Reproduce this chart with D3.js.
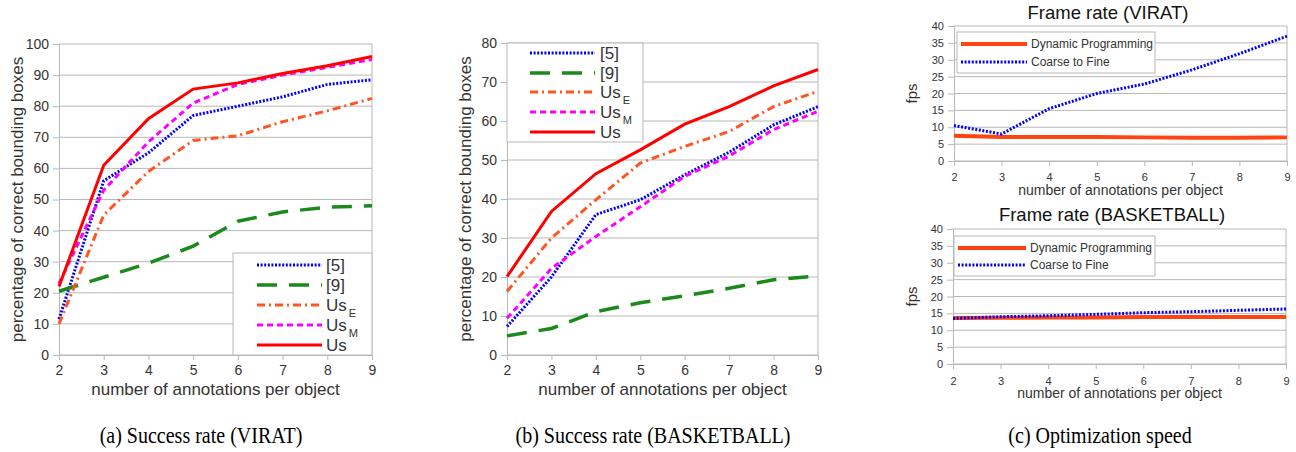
<!DOCTYPE html>
<html>
<head>
<meta charset="utf-8">
<script src="https://cdn.jsdelivr.net/npm/d3@7"></script>
<style>
  body { margin: 0; background: #fff; }
  svg { display: block; font-family: "Liberation Sans", Arial, sans-serif; }
  .grid line { stroke: #b8b8b8; stroke-width: 1; }
  .axis path, .axis line { stroke: #b8b8b8; }
  .axis text { fill: #333; }
</style>
</head>
<body>
<div id="chart"></div>
<script>
// annotations per object (x values shared by all panels)
var annotations = [2, 3, 4, 5, 6, 7, 8, 9];

// (a) success rate, VIRAT
var viratRef5 = [11.5, 56, 65, 77, 80, 83, 87, 88.5];
var viratRef9 = [20.5, 25, 29.5, 35, 43, 46, 47.5, 48];
var viratUsE  = [10, 45, 59, 69, 70.5, 75, 78.5, 82.5];
var viratUsM  = [23, 53, 68.5, 81, 87, 90, 92.5, 95];
var viratUs   = [22, 61, 76, 85.5, 87.5, 90.5, 93, 96];

// (b) success rate, BASKETBALL
var basketRef5 = [7.3, 20, 36, 39.8, 46.2, 52, 59, 63.7];
var basketRef9 = [4.9, 6.8, 11.1, 13.4, 15.2, 17.1, 19.3, 20.3];
var basketUsE  = [16.3, 30, 39.8, 49.2, 53.5, 57.3, 63.7, 67.6];
var basketUsM  = [9.4, 22.2, 30.4, 38, 45.8, 51, 57.8, 62.5];
var basketUs   = [20.1, 36.8, 46.5, 52.6, 59.2, 63.7, 69, 73.2];

// (c) frame rate
var viratDP   = [7.5, 7.1, 7.1, 7.1, 7.0, 6.9, 6.9, 7.0];
var viratCTF  = [10.5, 8, 15.5, 20, 22.8, 27, 31.8, 37];
var basketDP  = [13.6, 13.7, 13.8, 13.8, 13.9, 13.9, 13.9, 13.9];
var basketCTF = [13.5, 14, 14.3, 14.7, 15.2, 15.5, 15.9, 16.3];

var successNames = [["[5]", ""], ["[9]", ""], ["Us", "E"], ["Us", "M"], ["Us", ""]];
var speedNames = ["Dynamic Programming", "Coarse to Fine"];
var captions = ["(a) Success rate (VIRAT)", "(b) Success rate (BASKETBALL)", "(c) Optimization speed"];

// line styles
var successStyles = [
  {color: "#0000ff", width: 3, dash: "2,1.6"},
  {color: "#1b8a1b", width: 3.5, dash: "20,12"},
  {color: "#ff5522", width: 3, dash: "8,4,2,4"},
  {color: "#ff00ff", width: 3, dash: "6,4"},
  {color: "#ff0000", width: 3, dash: null}
];
var speedStyles = [
  {color: "#ff4411", width: 4, dash: null},
  {color: "#0000ff", width: 3, dash: "2,1.6"}
];

var svg = d3.select("#chart").append("svg")
  .attr("width", 1296)
  .attr("height", 452);

function drawPanel(p) {
  var x = d3.scaleLinear().domain([2, 9]).range([p.left, p.right]);
  var y = d3.scaleLinear().domain([0, p.ymax]).range([p.bottom, p.top]);
  var yTicks = d3.range(0, p.ymax + 0.01, p.ystep);

  var g = svg.append("g");

  // horizontal grid
  g.append("g").attr("class", "grid")
    .selectAll("line").data(yTicks).enter().append("line")
      .attr("x1", p.left).attr("x2", p.right)
      .attr("y1", function(d) { return y(d); })
      .attr("y2", function(d) { return y(d); });

  // right border
  g.append("line")
    .attr("x1", p.right).attr("x2", p.right)
    .attr("y1", p.top).attr("y2", p.bottom)
    .style("stroke", "#b8b8b8");

  g.append("g").attr("class", "axis")
    .attr("transform", "translate(" + p.left + ",0)")
    .call(d3.axisLeft(y).tickValues(yTicks).tickSizeInner(6).tickSizeOuter(0).tickPadding(4))
    .selectAll("text").style("font-size", p.tickFont + "px").style("font-family", "Liberation Sans");

  g.append("g").attr("class", "axis")
    .attr("transform", "translate(0," + p.bottom + ")")
    .call(d3.axisBottom(x).tickValues(annotations).tickFormat(d3.format("d"))
      .tickSizeInner(5).tickSizeOuter(0).tickPadding(p.xPad))
    .selectAll("text").style("font-size", p.tickFont + "px").style("font-family", "Liberation Sans");

  // axis titles
  g.append("text")
    .attr("x", (p.left + p.right) / 2)
    .attr("y", p.xLabelY)
    .attr("text-anchor", "middle")
    .style("font-size", p.labelFont + "px")
    .style("fill", "#333")
    .text("number of annotations per object");

  g.append("text")
    .attr("transform", "translate(" + p.yLabelX + "," + ((p.top + p.bottom) / 2) + ") rotate(-90)")
    .attr("text-anchor", "middle")
    .style("font-size", p.yLabelFont + "px")
    .style("fill", "#333")
    .text(p.yLabel);

  if (p.title) {
    g.append("text")
      .attr("x", p.titleX)
      .attr("y", p.titleY)
      .attr("text-anchor", "middle")
      .style("font-size", "18.5px")
      .style("fill", "#111")
      .text(p.title);
  }

  var line = d3.line()
    .x(function(d, i) { return x(annotations[i]); })
    .y(function(d) { return y(d); });

  p.series.forEach(function(s, i) {
    var st = p.styles[i];
    g.append("path")
      .datum(s)
      .attr("d", line)
      .style("fill", "none")
      .style("stroke", st.color)
      .style("stroke-width", st.width)
      .style("stroke-dasharray", st.dash);
  });

  // legend
  var lg = p.legend;
  g.append("rect")
    .attr("x", lg.x0).attr("y", lg.y0)
    .attr("width", lg.x1 - lg.x0).attr("height", lg.y1 - lg.y0)
    .style("fill", "#fff")
    .style("stroke", "#b8b8b8");

  p.names.forEach(function(n, i) {
    var st = p.styles[i];
    var ry = lg.rows[i];
    g.append("line")
      .attr("x1", lg.lx0).attr("x2", lg.lx1)
      .attr("y1", ry).attr("y2", ry)
      .style("stroke", st.color)
      .style("stroke-width", st.width)
      .style("stroke-dasharray", st.dash);
    var t = g.append("text")
      .attr("x", lg.tx)
      .attr("y", ry)
      .attr("dy", "0.36em")
      .style("font-size", lg.font + "px")
      .style("fill", "#333");
    if (Array.isArray(n)) {
      t.append("tspan").text(n[0]);
      if (n[1]) {
        t.append("tspan")
          .attr("dx", 2)
          .attr("dy", "0.55em")
          .style("font-size", (lg.font * 0.65) + "px")
          .text(n[1]);
      }
    } else {
      t.text(n);
    }
  });
}

drawPanel({
  left: 59, right: 372, top: 44, bottom: 355, ymax: 100, ystep: 10,
  tickFont: 14, xPad: 5, labelFont: 17, xLabelY: 395,
  yLabel: "percentage of correct bounding boxes", yLabelX: 23, yLabelFont: 17,
  series: [viratRef5, viratRef9, viratUsE, viratUsM, viratUs],
  styles: successStyles, names: successNames,
  legend: {x0: 233, x1: 372, y0: 253, y1: 355, lx0: 257, lx1: 322, tx: 326,
           rows: [265, 285, 305, 325, 345], font: 17}
});

drawPanel({
  left: 507, right: 818, top: 43, bottom: 355, ymax: 80, ystep: 10,
  tickFont: 14, xPad: 5, labelFont: 17, xLabelY: 395,
  yLabel: "percentage of correct bounding boxes", yLabelX: 471, yLabelFont: 17,
  series: [basketRef5, basketRef9, basketUsE, basketUsM, basketUs],
  styles: successStyles, names: successNames,
  legend: {x0: 507, x1: 643, y0: 43, y1: 142, lx0: 530, lx1: 595, tx: 600,
           rows: [53, 73, 92, 112, 132], font: 17}
});

drawPanel({
  left: 954, right: 1287, top: 26, bottom: 161, ymax: 40, ystep: 5,
  tickFont: 11, xPad: 7, labelFont: 14, xLabelY: 195,
  yLabel: "fps", yLabelX: 917, yLabelFont: 15,
  title: "Frame rate (VIRAT)", titleX: 1108, titleY: 19,
  series: [viratDP, viratCTF],
  styles: speedStyles, names: speedNames,
  legend: {x0: 957, x1: 1155, y0: 32, y1: 73, lx0: 961, lx1: 1027, tx: 1031,
           rows: [44, 62], font: 12}
});

drawPanel({
  left: 953, right: 1286, top: 229, bottom: 364, ymax: 40, ystep: 5,
  tickFont: 11, xPad: 8, labelFont: 14, xLabelY: 398,
  yLabel: "fps", yLabelX: 917, yLabelFont: 15,
  title: "Frame rate (BASKETBALL)", titleX: 1112, titleY: 221,
  series: [basketDP, basketCTF],
  styles: speedStyles, names: speedNames,
  legend: {x0: 954, x1: 1155, y0: 236, y1: 276, lx0: 958, lx1: 1026, tx: 1030,
           rows: [248, 265], font: 12}
});

// figure captions (narrow serif look)
var captionX = [201, 653, 1100];
svg.selectAll(".caption").data(captions).enter().append("text")
  .attr("class", "caption")
  .attr("transform", function(d, i) { return "translate(" + captionX[i] + ",443) scale(0.87,1)"; })
  .attr("text-anchor", "middle")
  .style("font-family", "Liberation Serif, serif")
  .style("font-size", "23px")
  .style("fill", "#000")
  .text(function(d) { return d; });
</script>
</body>
</html>
